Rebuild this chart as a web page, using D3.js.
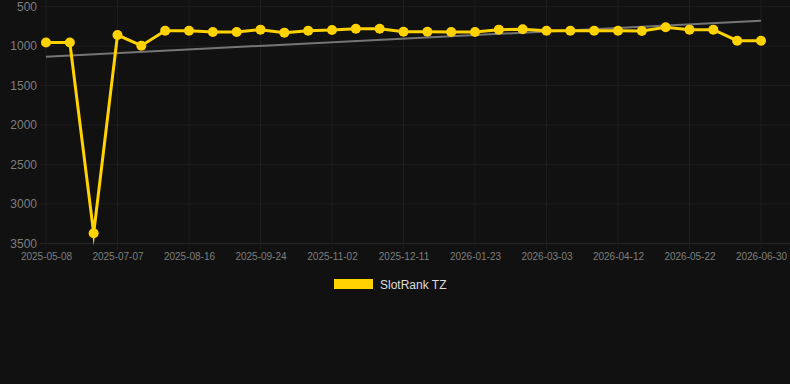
<!DOCTYPE html>
<html lang="en">
<head>
<meta charset="utf-8">
<script src="https://cdnjs.cloudflare.com/ajax/libs/d3/7.8.5/d3.min.js"></script>
<title>SlotRank TZ</title>
<style>
  body { margin:0; background:#111111; }
  svg { display:block; font-family:"Liberation Sans", Arial, sans-serif; }
</style>
</head>
<body>
<div id="chart"></div>
<script>
  // one rank per snapshot; only every third date is labelled on the axis
  const dates = ["2025-05-08","2025-05-28","2025-06-17","2025-07-07","2025-07-20","2025-08-02",
    "2025-08-16","2025-08-29","2025-09-11","2025-09-24","2025-10-07","2025-10-20",
    "2025-11-02","2025-11-15","2025-11-28","2025-12-11","2025-12-25","2026-01-09",
    "2026-01-23","2026-02-05","2026-02-18","2026-03-03","2026-03-16","2026-03-29",
    "2026-04-12","2026-04-25","2026-05-08","2026-05-22","2026-06-04","2026-06-17","2026-06-30"];
  const ranks = [955, 955, 3372, 859, 994, 804, 804, 821, 821, 791, 829, 804,
    795, 779, 779, 817, 817, 821, 821, 791, 787, 804, 804, 804,
    804, 808, 761, 791, 791, 931, 931];
  const trendDates = ["2025-05-08", "2026-06-30"];
  const trendValues = [1134, 677];
  const yTicks = [500, 1000, 1500, 2000, 2500, 3000, 3500];
  const seriesName = "SlotRank TZ";

  const width = 790, height = 384;
  const svg = d3.select("#chart").append("svg").attr("width", width).attr("height", height);

  const x = d3.scalePoint().domain(dates).range([46, 761]);
  const y = d3.scaleLinear().domain([500, 3500]).range([6.7, 243.3]);

  // horizontal grid
  svg.append("g").selectAll("line").data(yTicks).enter().append("line")
    .attr("x1", 40).attr("x2", 790)
    .attr("y1", d => y(d)).attr("y2", d => y(d))
    .attr("stroke", d => d == 3500 ? "#2a2a2a" : "#1d1d1d").attr("stroke-width", 1);

  const labelled = dates.filter((d, i) => i % 3 == 0);

  // vertical grid
  svg.append("g").selectAll("line").data(labelled).enter().append("line")
    .attr("x1", d => x(d)).attr("x2", d => x(d))
    .attr("y1", 0).attr("y2", 249)
    .attr("stroke", "#1d1d1d").attr("stroke-width", 1);

  const yAxis = d3.axisLeft(y).tickValues(yTicks).tickSize(0).tickPadding(0).tickFormat(d3.format("d"));
  svg.append("g").attr("transform", "translate(37,0)").call(yAxis)
    .call(g => g.select(".domain").remove())
    .selectAll("text").attr("fill", "#7e7e7e").style("font-size", "12px");

  const xAxis = d3.axisBottom(x).tickValues(labelled).tickSize(0).tickPadding(0);
  svg.append("g").attr("transform", "translate(0,253)").call(xAxis)
    .call(g => g.select(".domain").remove())
    .selectAll("text").attr("fill", "#7e7e7e").style("font-size", "10px");

  // trend line
  const trendLine = d3.line().x(d => x(d[0])).y(d => y(d[1]));
  svg.append("path")
    .attr("d", trendLine(trendDates.map((d, i) => [d, trendValues[i]])))
    .attr("fill", "none").attr("stroke", "#757575").attr("stroke-width", 2);

  const pts = dates.map((d, i) => ({date: d, rank: ranks[i]}));
  const line = d3.line().x(d => x(d.date)).y(d => y(d.rank));
  svg.append("path")
    .attr("d", line(pts))
    .attr("fill", "none").attr("stroke", "#ffd200").attr("stroke-width", 3)
    .attr("stroke-linejoin", "miter").attr("stroke-miterlimit", 10);

  svg.append("g").selectAll("circle").data(pts).enter().append("circle")
    .attr("cx", d => x(d.date)).attr("cy", d => y(d.rank))
    .attr("r", 5).attr("fill", "#ffd200");

  // legend
  const legend = svg.append("g").attr("transform", "translate(334,279)");
  legend.append("rect").attr("width", 39).attr("height", 10).attr("fill", "#ffd200");
  legend.append("text").attr("x", 46).attr("y", 9.5).text(seriesName)
    .attr("fill", "#dddddd").style("font-size", "12px");
</script>
</body>
</html>
